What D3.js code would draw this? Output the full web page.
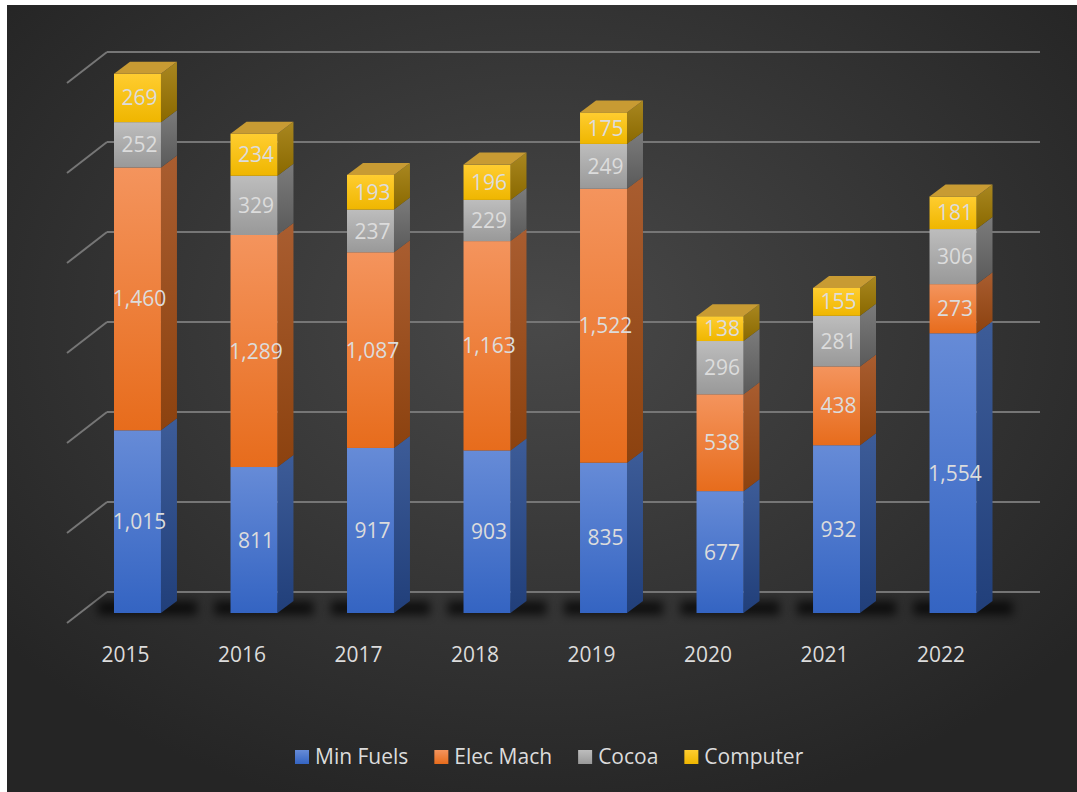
<!DOCTYPE html>
<html>
<head>
<meta charset="utf-8">
<script src="https://cdn.jsdelivr.net/npm/d3@7"></script>
<style>
  body { margin: 0; background: #fff; }
  svg { display: block; }
  text { font-family: "Open Sans", "Noto Sans", sans-serif; fill: #dcdcdc; }
</style>
</head>
<body>
<script>
const years = ['2015', '2016', '2017', '2018', '2019', '2020', '2021', '2022']
const seriesNames = ['Min Fuels', 'Elec Mach', 'Cocoa', 'Computer']
const minFuels = [1015, 811, 917, 903, 835, 677, 932, 1554]
const elecMach = [1460, 1289, 1087, 1163, 1522, 538, 438, 273]
const cocoa = [252, 329, 237, 229, 249, 296, 281, 306]
const computer = [269, 234, 193, 196, 175, 138, 155, 181]
const yTicks = [0, 500, 1000, 1500, 2000, 2500, 3000]

let width = 1077
let height = 792

// front / side / top colours per series
const palette = [
  { front: ['#668bd7', '#3464c2'], side: ['#3d5c98', '#213f7a'], top: '#6f92d8' },
  { front: ['#f4945d', '#e76c1c'], side: ['#a95d30', '#8c420f'], top: '#f29a62' },
  { front: ['#bdbdbd', '#999999'], side: ['#7b7b7b', '#5a5a5a'], top: '#c2c2c2' },
  { front: ['#ffcd30', '#efb600'], side: ['#a98720', '#8a6900'], top: '#c89b33' }
]

const table = years.map((y, i) => ({
  year: y, 'Min Fuels': minFuels[i], 'Elec Mach': elecMach[i], 'Cocoa': cocoa[i], 'Computer': computer[i]
}))
const stacked = d3.stack().keys(seriesNames)(table)

const depthX = 16, depthY = -12
const wallDX = 40, wallDY = -31

const svg = d3.select('body').append('svg')
  .attr('width', width)
  .attr('height', height)

const defs = svg.append('defs')

const bg = defs.append('radialGradient').attr('id', 'bg')
  .attr('cx', '0.5').attr('cy', '0.4').attr('r', '0.65')
bg.append('stop').attr('offset', '0%').attr('stop-color', '#494949')
bg.append('stop').attr('offset', '100%').attr('stop-color', '#252525')

palette.forEach((p, i) => {
  const f = defs.append('linearGradient').attr('id', 'front' + i).attr('x1', 0).attr('y1', 0).attr('x2', 0).attr('y2', 1)
  f.append('stop').attr('offset', '0%').attr('stop-color', p.front[0])
  f.append('stop').attr('offset', '100%').attr('stop-color', p.front[1])
  const s = defs.append('linearGradient').attr('id', 'side' + i).attr('x1', 0).attr('y1', 0).attr('x2', 0).attr('y2', 1)
  s.append('stop').attr('offset', '0%').attr('stop-color', p.side[0])
  s.append('stop').attr('offset', '100%').attr('stop-color', p.side[1])
})

defs.append('filter').attr('id', 'blur').attr('x', '-50%').attr('y', '-100%').attr('width', '200%').attr('height', '300%')
  .append('feGaussianBlur').attr('stdDeviation', 5)

svg.append('rect')
  .attr('x', 7).attr('y', 5)
  .attr('width', width - 7).attr('height', height - 5)
  .attr('fill', 'url(#bg)')

const x = d3.scaleBand()
  .domain(years)
  .range([114, 976.5])
  .paddingInner(0.597)
  .paddingOuter(0)
  .align(0)

// front plane value scale
const y = d3.scaleLinear().domain([0, 3000]).range([613, 73])
// back wall value scale
const yBack = d3.scaleLinear().domain([0, 3000]).range([592, 52])

// Gridlines on back wall with slanted side wall
const grid = svg.append('g')
grid.selectAll('line.back')
  .data(yTicks)
  .enter().append('line')
  .attr('class', 'back')
  .attr('x1', 107).attr('x2', 1040)
  .attr('y1', d => yBack(d)).attr('y2', d => yBack(d))
  .attr('stroke', '#767676').attr('stroke-width', 2)
grid.selectAll('line.side')
  .data(yTicks)
  .enter().append('line')
  .attr('class', 'side')
  .attr('x1', 107 - wallDX).attr('x2', 107)
  .attr('y1', d => yBack(d) - wallDY).attr('y2', d => yBack(d))
  .attr('stroke', '#767676').attr('stroke-width', 2)

// floor shadows
svg.append('g')
  .selectAll('rect')
  .data(years)
  .enter().append('rect')
  .attr('x', d => x(d) - 16)
  .attr('y', y(0) - 12)
  .attr('width', x.bandwidth() + 52)
  .attr('height', 14)
  .attr('fill', '#000')
  .attr('opacity', 0.7)
  .attr('filter', 'url(#blur)')

const bars = svg.append('g')
const last = stacked.length - 1

stacked.forEach((layer, si) => {
  const g = bars.append('g')
  layer.forEach((d, i) => {
    const yr = years[i]
    const x0 = x(yr), x1 = x(yr) + x.bandwidth()
    const yTop = y(d[1]), yBot = y(d[0])
    // side face
    g.append('path')
      .attr('d', `M${x1},${yBot}L${x1 + depthX},${yBot + depthY}L${x1 + depthX},${yTop + depthY}L${x1},${yTop}Z`)
      .attr('fill', `url(#side${si})`)
    // front face
    g.append('rect')
      .attr('x', x0).attr('y', yTop)
      .attr('width', x.bandwidth()).attr('height', yBot - yTop)
      .attr('fill', `url(#front${si})`)
    if (si === last) {
      g.append('path')
        .attr('d', `M${x0},${yTop}L${x0 + depthX},${yTop + depthY}L${x1 + depthX},${yTop + depthY}L${x1},${yTop}Z`)
        .attr('fill', palette[si].top)
    }
    g.append('text')
      .attr('x', x0 + x.bandwidth() / 2 + 2)
      .attr('y', (yTop + yBot) / 2)
      .attr('dy', '0.36em')
      .attr('text-anchor', 'middle')
      .style('font-size', '21px')
      .text(d3.format(',')(d[1] - d[0]))
  })
})

// category labels
svg.append('g')
  .selectAll('text')
  .data(years)
  .enter().append('text')
  .attr('x', d => x(d) + x.bandwidth() / 2 - 12)
  .attr('y', 662)
  .attr('text-anchor', 'middle')
  .style('font-size', '21px')
  .text(d => d)

// legend
const legend = svg.append('g').attr('transform', 'translate(295, 750)')
let lx = 0
seriesNames.forEach((name, i) => {
  const item = legend.append('g').attr('transform', `translate(${lx},0)`)
  const sq = defs.append('linearGradient').attr('id', 'leg' + i).attr('x1', 0).attr('y1', 0).attr('x2', 0).attr('y2', 1)
  sq.append('stop').attr('offset', '0%').attr('stop-color', palette[i].front[0])
  sq.append('stop').attr('offset', '100%').attr('stop-color', palette[i].front[1])
  item.append('rect').attr('width', 14).attr('height', 14).attr('fill', `url(#leg${i})`)
  const t = item.append('text')
    .attr('x', 20).attr('y', 14)
    .style('font-size', '21px')
    .text(name)
  lx += 20 + t.node().getComputedTextLength() + 26
})
</script>
</body>
</html>
